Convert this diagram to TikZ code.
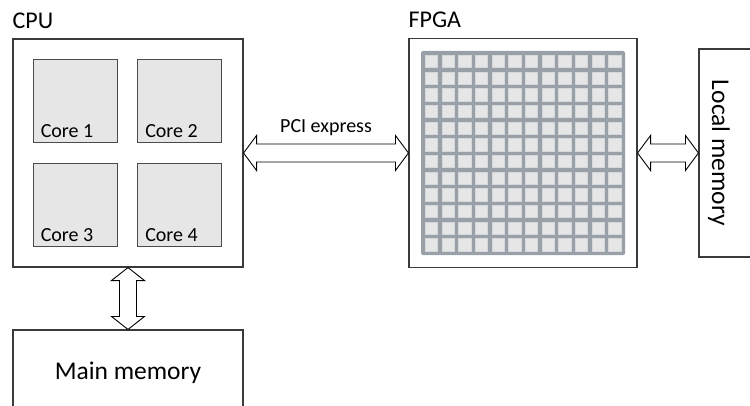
\documentclass[tikz,border=0pt]{standalone}
\usepackage{fontspec}
\setmainfont{Carlito}
\usetikzlibrary{calc}
\definecolor{boxline}{HTML}{3A3A3A}
\definecolor{corefill}{HTML}{E6E6E6}
\definecolor{coreline}{HTML}{4A4A4A}
\definecolor{gridc}{HTML}{9AA0A8}
\definecolor{cellc}{HTML}{E6E6E6}
\definecolor{celledge}{HTML}{D4D8DC}
\tikzset{
  bigbox/.style={draw=boxline, line width=1.1pt, fill=white, rectangle, inner sep=0pt},
  corebox/.style={draw=coreline, line width=0.9pt, fill=corefill, rectangle, inner sep=0pt, minimum width=84pt, minimum height=83pt},
  corelabel/.style={anchor=base west, inner sep=0pt, font=\fontsize{20}{24}\selectfont},
  titlelabel/.style={anchor=base west, inner sep=0pt, font=\fontsize{24}{28}\selectfont},
  memlabel/.style={inner sep=0pt, font=\fontsize{25.5}{30}\selectfont},
  blockarr/.style={draw=black, line width=0.9pt, fill=white, line join=miter},
}
\newcommand{\harr}[2]{\draw[blockarr] (#1) -- ($(#1)+(13,17.5)$) -- ($(#1)+(13,9)$) -- ($(#2)+(-13,9)$) -- ($(#2)+(-13,17.5)$) -- (#2) -- ($(#2)+(-13,-17.5)$) -- ($(#2)+(-13,-9)$) -- ($(#1)+(13,-9)$) -- ($(#1)+(13,-17.5)$) -- cycle;}
\newcommand{\varr}[2]{\draw[blockarr] (#1) -- ($(#1)+(-16.5,-13)$) -- ($(#1)+(-8.5,-13)$) -- ($(#2)+(-8.5,13)$) -- ($(#2)+(-16.5,13)$) -- (#2) -- ($(#2)+(16.5,13)$) -- ($(#2)+(8.5,13)$) -- ($(#1)+(8.5,-13)$) -- ($(#1)+(16.5,-13)$) -- cycle;}
\begin{document}
\begin{tikzpicture}[x=1pt,y=1pt]
\path[use as bounding box] (0,0) rectangle (750,405);
\fill[white] (0,0) rectangle (750,405);
\clip (0,0) rectangle (750,405);
% CPU
\node[bigbox, minimum width=230pt, minimum height=228pt] (cpu) at (128,252) {};
\node[titlelabel] (cputitle) at ($(cpu.north west)+(0,10)$) {CPU};
\node[corebox] (core1) at (75,304.5) {};
\node[corebox] (core2) at (179.5,304.5) {};
\node[corebox] (core3) at (75,200.5) {};
\node[corebox] (core4) at (179.5,200.5) {};
\node[corelabel] (l1) at ($(core1.south west)+(8,5)$) {Core 1};
\node[corelabel] (l2) at ($(core2.south west)+(8,5)$) {Core 2};
\node[corelabel] (l3) at ($(core3.south west)+(8,5)$) {Core 3};
\node[corelabel] (l4) at ($(core4.south west)+(8,5)$) {Core 4};
% FPGA
\node[bigbox, minimum width=228pt, minimum height=229pt] (fpga) at (523,252) {};
\node[titlelabel] (fpgatitle) at ($(fpga.north west)+(0,10)$) {FPGA};
\fill[gridc, rounded corners=1.5pt] (421,150) rectangle (625,354);
\foreach \i in {0,...,11}{
  \foreach \j in {0,...,11}{
    \filldraw[fill=cellc, draw=celledge, line width=0.5pt]
      ({423+16.6667*\i+2.2},{152+16.6667*\j+2.2}) rectangle ++(12.3,12.3);
  }
}
% Local memory
\node[bigbox, minimum width=70pt, minimum height=208pt] (localmem) at (734,252) {};
\node[memlabel, rotate=-90] (localtext) at (719,252) {Local memory};
% Main memory
\node[bigbox, memlabel, minimum width=230pt, minimum height=86pt] (mainmem) at (128,32) {Main memory};
% arrows
\harr{cpu.east}{fpga.west}
\node[inner sep=0pt, font=\fontsize{20}{24}\selectfont, anchor=base] (pci) at ($(cpu.east)!0.5!(fpga.west)+(0,20)$) {PCI express};
\harr{fpga.east}{localmem.west}
\varr{cpu.south}{mainmem.north}
\end{tikzpicture}
\end{document}
